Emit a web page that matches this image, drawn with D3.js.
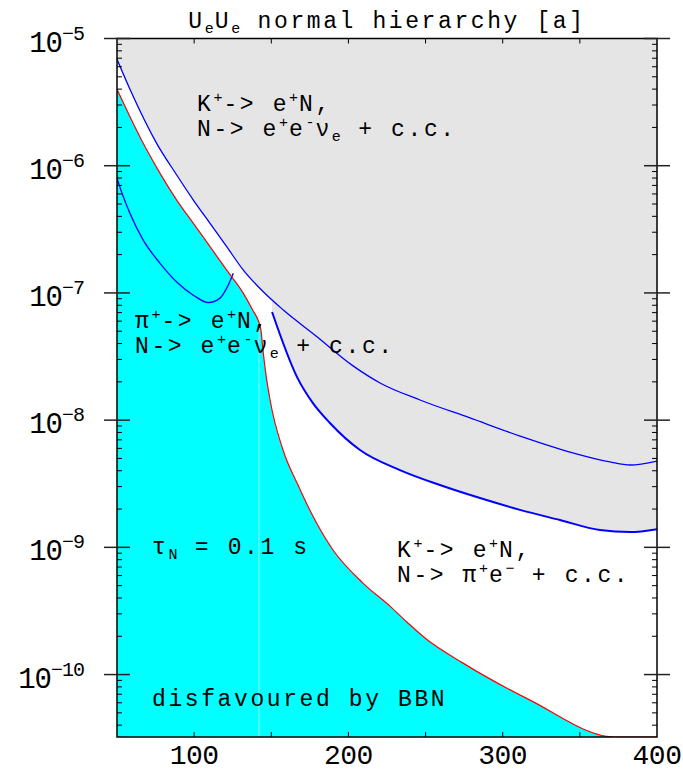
<!DOCTYPE html>
<html>
<head>
<meta charset="utf-8">
<script src="https://cdn.jsdelivr.net/npm/d3@7"></script>
<style>
  html, body { margin: 0; padding: 0; background: #fff; }
  svg { display: block; }
  text { font-family: "Liberation Mono", "Courier New", monospace; fill: #000; }
</style>
</head>
<body>
<svg id="chart" width="683" height="773"></svg>
<script>
// heavy neutral mass [MeV]  vs  |U_e|^2

// K+ -> e+ N, N -> e+ e- nu_e (upper bound)
const massKee = [50, 58.4, 75.7, 88.7, 99.5, 110.3, 121.1, 131.9, 144.8, 157.8, 179.0, 203.0, 220.5, 246.4, 278.8, 311.2, 343.6, 369.5, 382.5, 400]
const uKee = [6.86e-6, 3.99e-6, 1.50e-6, 8.45e-7, 5.37e-7, 3.52e-7, 2.31e-7, 1.51e-7, 1.02e-7, 7.34e-8, 4.59e-8, 2.67e-8, 1.96e-8, 1.44e-8, 1.04e-8, 7.50e-9, 5.61e-9, 4.69e-9, 4.44e-9, 4.77e-9]

// K+ -> e+ N, N -> pi+ e-
const massKpi = [150.5, 166.7, 177.0, 188.0, 207.5, 233.4, 259.3, 285.3, 311.2, 337.1, 363.0, 382.5, 400]
const uKpi = [7.08e-8, 2.18e-8, 1.36e-8, 9.5e-9, 5.82e-9, 4.05e-9, 3.09e-9, 2.44e-9, 1.97e-9, 1.64e-9, 1.37e-9, 1.32e-9, 1.39e-9]

// pi+ -> e+ N, N -> e+ e- nu_e
const massPiee = [50, 54.1, 58.4, 67.0, 77.9, 88.7, 99.5, 109.2, 116.8, 121.1, 125.4]
const uPiee = [7.96e-7, 5.70e-7, 4.22e-7, 2.60e-7, 1.71e-7, 1.22e-7, 9.6e-8, 8.4e-8, 9.1e-8, 1.09e-7, 1.43e-7]

// BBN bound, tau_N = 0.1 s
const massBBN = [50, 58.4, 67.0, 77.9, 88.7, 99.5, 110.3, 121.1, 131.9, 138.3, 141.4, 143.3, 144.6, 146.6, 149.2, 157.6, 167.3, 178.3, 190.0, 209.4, 226.9, 238.0, 249.6, 274.3, 317.7, 372.8, 400]
const uBBN = [3.99e-6, 2.43e-6, 1.50e-6, 8.71e-7, 5.37e-7, 3.52e-7, 2.31e-7, 1.51e-7, 9.93e-8, 7.21e-8, 6.12e-8, 5.11e-8, 3.56e-8, 2.26e-8, 1.44e-8, 5.82e-9, 3.09e-9, 1.64e-9, 9.53e-10, 5.24e-10, 3.45e-10, 2.58e-10, 1.94e-10, 1.23e-10, 6.30e-11, 3.23e-11, 3.23e-11]

const pionMass = 142
const xTicks = [100, 150, 200, 250, 300, 350]
const xLabels = [100, 200, 300, 400]
const yExponents = [-5, -6, -7, -8, -9, -10]

const plotLeft = 117, plotRight = 657, plotTop = 38.5, plotBottom = 737
const yMin = 3.23e-11, yMax = 1e-5

const svg = d3.select('#chart')

const x = d3.scaleLinear().domain([50, 400]).range([plotLeft, plotRight])
const y = d3.scaleLog().domain([yMin, yMax]).range([plotBottom, plotTop])

const zip = (ms, us) => ms.map((m, i) => [m, us[i]])
const line = d3.line().x(d => x(d[0])).y(d => y(d[1])).curve(d3.curveMonotoneX)

const defs = svg.append('defs')
defs.append('clipPath').attr('id', 'plot-clip')
    .append('rect')
    .attr('x', plotLeft).attr('y', plotTop)
    .attr('width', plotRight - plotLeft).attr('height', plotBottom - plotTop)

const bbnArea = d3.area()
    .x(d => x(d[0]))
    .y0(plotBottom)
    .y1(d => y(d[1]))
    .curve(d3.curveMonotoneX)

defs.append('clipPath').attr('id', 'bbn-clip')
    .append('path')
    .attr('d', bbnArea(zip(massBBN, uBBN)))

const plot = svg.append('g').attr('clip-path', 'url(#plot-clip)')

// excluded region (grey): above K->eee line, right of K->pi e line
let keePts = zip(massKee, uKee)
let kpiPts = zip(massKpi, uKpi)
let keeLeft = keePts.filter(d => d[0] < massKpi[0])
// value of the K->eee line where the K->pi e line begins
let a = keePts.find(d => d[0] >= massKpi[0])
let b = keePts[keePts.indexOf(a) - 1]
let f = (massKpi[0] - b[0]) / (a[0] - b[0])
let uJoin = Math.pow(10, Math.log10(b[1]) + f * (Math.log10(a[1]) - Math.log10(b[1])))
keeLeft.push([massKpi[0], uJoin])

let greyPath = 'M' + x(50) + ',' + y(yMax)
    + line(keeLeft).replace(/^M/, 'L')
    + line(kpiPts).replace(/^M/, 'L')
    + 'L' + x(400) + ',' + y(yMax) + 'Z'

plot.append('path')
    .attr('d', greyPath)
    .attr('fill', '#e5e5e5')

// BBN disfavoured (cyan)
plot.append('path')
    .attr('d', bbnArea(zip(massBBN, uBBN)))
    .attr('fill', '#00ffff')

// faint seam at the pion threshold
plot.append('line')
    .attr('clip-path', 'url(#bbn-clip)')
    .attr('x1', x(pionMass)).attr('x2', x(pionMass))
    .attr('y1', plotTop).attr('y2', plotBottom)
    .attr('stroke', '#e0ffff')
    .attr('stroke-width', 0.6)

// curves
plot.append('path')
    .attr('d', line(keePts))
    .attr('fill', 'none')
    .attr('stroke', '#0000ff')
    .attr('stroke-width', 1.3)

plot.append('path')
    .attr('d', line(kpiPts))
    .attr('fill', 'none')
    .attr('stroke', '#0000ff')
    .attr('stroke-width', 2)

plot.append('path')
    .attr('d', line(zip(massPiee, uPiee)))
    .attr('fill', 'none')
    .attr('stroke', '#0000ff')
    .attr('stroke-width', 1.3)

plot.append('path')
    .attr('d', line(zip(massBBN, uBBN)))
    .attr('fill', 'none')
    .attr('stroke', '#ff0000')
    .attr('stroke-width', 1.2)

// frame
const axes = svg.append('g')
axes.append('rect')
    .attr('x', plotLeft).attr('y', plotTop)
    .attr('width', plotRight - plotLeft).attr('height', plotBottom - plotTop)
    .attr('fill', 'none')
    .attr('stroke', '#000')
    .attr('stroke-width', 1.5)

// x ticks (inward, top and bottom)
xTicks.forEach(v => {
    axes.append('line')
        .attr('x1', x(v)).attr('x2', x(v))
        .attr('y1', plotBottom).attr('y2', plotBottom - 5)
        .attr('stroke', '#000')
    axes.append('line')
        .attr('x1', x(v)).attr('x2', x(v))
        .attr('y1', plotTop).attr('y2', plotTop + 5)
        .attr('stroke', '#000')
})

// y ticks, major crossing the frame, minor inward
yExponents.forEach(e => {
    let py = y(Math.pow(10, e))
    axes.append('line')
        .attr('x1', plotLeft - 13).attr('x2', plotLeft + 13)
        .attr('y1', py).attr('y2', py)
        .attr('stroke', '#222').attr('stroke-width', 1.5)
    axes.append('line')
        .attr('x1', plotRight - 13).attr('x2', plotRight + 13)
        .attr('y1', py).attr('y2', py)
        .attr('stroke', '#222').attr('stroke-width', 1.5)
})
for (let e = -11; e < -5; e += 1) {
    for (let k = 2; k <= 9; k += 1) {
        let v = k * Math.pow(10, e)
        if (v < yMin || v > yMax) continue
        let py = y(v)
        axes.append('line')
            .attr('x1', plotLeft).attr('x2', plotLeft + 5)
            .attr('y1', py).attr('y2', py)
            .attr('stroke', '#000')
        axes.append('line')
            .attr('x1', plotRight - 5).attr('x2', plotRight)
            .attr('y1', py).attr('y2', py)
            .attr('stroke', '#000')
    }
}

// tick labels
xLabels.forEach(v => {
    axes.append('text')
        .attr('x', x(v)).attr('y', 764)
        .attr('text-anchor', 'middle')
        .attr('font-size', 28)
        .attr('letter-spacing', -0.5)
        .text(v)
})

yExponents.forEach(e => {
    let t = axes.append('text')
        .attr('x', 84).attr('y', y(Math.pow(10, e)) + 13)
        .attr('text-anchor', 'end')
        .attr('font-size', 29)
        .attr('letter-spacing', -1)
    t.append('tspan').text('10')
    t.append('tspan')
        .attr('dy', -12)
        .attr('font-size', 20)
        .text(String(e).replace('-', '\u2212'))
})

// rich text helper: parts = [[string, 'sup' | 'sub' | null], ...]
function richText(g, px, py, parts, anchor) {
    let t = g.append('text')
        .attr('x', px).attr('y', py)
        .attr('font-size', 23)
        .attr('letter-spacing', 2.6)
        .attr('text-anchor', anchor || 'start')
    let shift = 0
    parts.forEach(([s, kind]) => {
        let target = kind == 'sup' ? -9 : kind == 'sub' ? 5 : 0
        let sp = t.append('tspan').attr('dy', target - shift).text(s)
        if (kind) sp.attr('font-size', 15).attr('letter-spacing', 1)
        shift = target
    })
    return t
}

const notes = svg.append('g')

richText(notes, 387, 28, [['U'], ['e', 'sub'], ['U'], ['e', 'sub'], [' normal hierarchy [a]']], 'middle')

richText(notes, 197, 111, [['K'], ['+', 'sup'], ['-> e'], ['+', 'sup'], ['N,']])
richText(notes, 197, 136, [['N-> e'], ['+', 'sup'], ['e'], ['-', 'sup'], ['\u03bd'], ['e', 'sub'], [' + c.c.']])

richText(notes, 135, 328, [['\u03c0'], ['+', 'sup'], ['-> e'], ['+', 'sup'], ['N,']])
richText(notes, 135, 353, [['N-> e'], ['+', 'sup'], ['e'], ['-', 'sup'], ['\u03bd'], ['e', 'sub'], [' + c.c.']])

richText(notes, 397, 557, [['K'], ['+', 'sup'], ['-> e'], ['+', 'sup'], ['N,']])
richText(notes, 397, 582, [['N-> \u03c0'], ['+', 'sup'], ['e'], ['\u2212', 'sup'], [' + c.c.']])

richText(notes, 152, 554, [['\u03c4'], ['N', 'sub'], [' = 0.1 s']])
richText(notes, 152, 706, [['disfavoured by BBN']])
</script>
</body>
</html>
